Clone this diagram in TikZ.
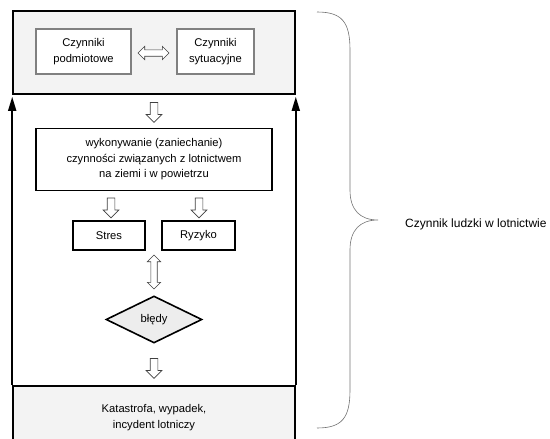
\documentclass[tikz,border=0pt]{standalone}
\usepackage{fontspec}
\setmainfont{Liberation Sans}
\usetikzlibrary{shapes.geometric,shapes.arrows,arrows.meta}
\definecolor{panelgray}{RGB}{243,243,243}
\definecolor{rimgray}{RGB}{128,128,128}

\begin{document}
\begin{tikzpicture}[x=1pt, y=1pt,
  font=\fontsize{11.2}{15.5}\selectfont,
  frame/.style={draw=black, line width=1.6pt, fill=panelgray, inner sep=0pt,
                align=center},
  factor/.style={draw=rimgray, line width=1.6pt, fill=white, align=center,
                 inner sep=0pt, minimum height=45pt},
  box/.style={draw=black, line width=1.6pt, fill=white, align=center,
              inner sep=0pt},
  hollow/.style={single arrow, shape border rotate=270, draw=black!75,
                 fill=white, line width=0.7pt, inner sep=3.5pt,
                 single arrow head extend=4pt, minimum height=20pt},
  twoway/.style={double arrow, draw=black!75, fill=white, line width=0.7pt,
                 inner sep=2.8pt, double arrow head extend=3.5pt},
  loop/.style={-{Triangle[length=14pt, width=8pt]}, line width=1.6pt,
               shorten >=2pt},
]
\useasboundingbox (0,0) rectangle (550,-439);

% ---- top panel: factors ----
\node[frame, minimum width=282pt, minimum height=83pt] (top) at (154,-52.5) {};
\node[factor, minimum width=95pt] (pod) at (83.5,-51.5) {Czynniki\\podmiotowe};
\node[factor, minimum width=77pt] (syt) at (215.5,-51.5) {Czynniki\\sytuacyjne};
\node[twoway, minimum height=31pt] (pq) at (153.5,-53) {};

% ---- middle: activity and its effects ----
\node[hollow] (d1) at (154,-110.5) {};
\node[box, minimum width=236pt, minimum height=62pt] (act) at (154,-159.5)
  {wykonywanie (zaniechanie)\\czynności związanych z lotnictwem\\na ziemi i w powietrzu};
\node[hollow] (d2) at (111,-206) {};
\node[hollow] (d3) at (199,-206) {};
\node[box, minimum width=72pt, minimum height=29pt] (stres) at (109,-235.5) {Stres};
\node[box, minimum width=73pt, minimum height=29pt] (ryz) at (198.5,-235.5) {Ryzyko};
\node[twoway, shape border rotate=90, minimum height=34pt] (ud) at (154,-272) {};
\node[diamond, draw=black, line width=1.6pt, fill=black!7, inner sep=0pt,
      minimum width=96pt, minimum height=47pt] (err) at (154,-319.5) {błędy};
\node[hollow] (d4) at (154,-366.5) {};

% ---- bottom panel: outcome ----
\node[frame, minimum width=282pt, minimum height=63pt] (bot) at (154,-417.5)
  {Katastrofa, wypadek,\\incydent lotniczy};

\draw[loop] (bot.north west) -- (top.south west);
\draw[loop] (bot.north east) -- (top.south east);

% ---- brace and label ----
\node[anchor=west, inner sep=0pt, font=\fontsize{12}{14}\selectfont] (hf)
  at (405,-224) {Czynnik ludzki w lotnictwie};
\draw[black!55, line width=0.6pt]
  (317,-12) .. controls (342,-12) and (350,-22) .. (350,-50)
  -- (350,-190) .. controls (350,-210) and (360,-220) .. (378,-220)
  .. controls (360,-220) and (350,-230) .. (350,-250)
  -- (350,-390) .. controls (350,-418) and (342,-428) .. (317,-428);
\end{tikzpicture}
\end{document}
